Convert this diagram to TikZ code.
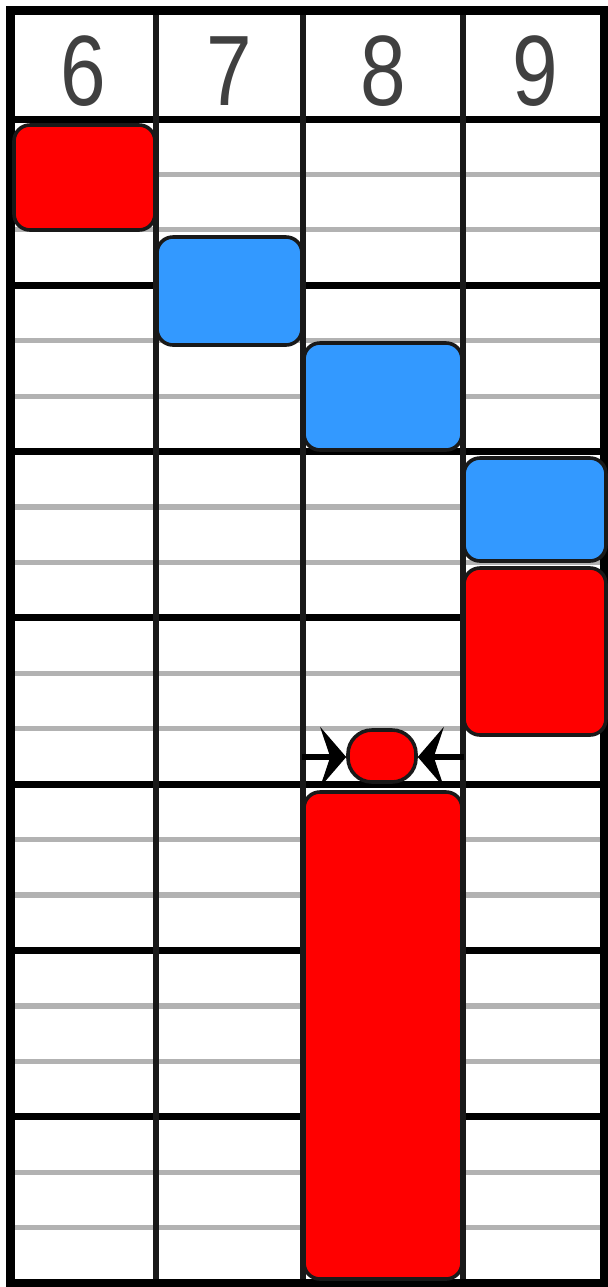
\documentclass[tikz,border=0pt]{standalone}
\usepackage{fontspec}
\setmainfont{Liberation Sans}
\usepackage{tikz}
\usetikzlibrary{arrows.meta}
\definecolor{slotred}{RGB}{255,0,0}
\definecolor{slotblue}{RGB}{51,153,255}
\newcommand{\hd}[1]{\scalebox{0.82}[1]{#1}}
\tikzset{
  frameline/.style = {line width=4.5pt,black},
  hourline/.style  = {line width=3.5pt,black},
  colline/.style   = {line width=2.6pt,black!90},
  subline/.style   = {line width=2.6pt,gray!60},
  slotbox/.style   = {draw=black!90,line width=1.8pt,rounded corners=8pt},
  headnum/.style   = {anchor=base,text=black!75,font=\fontsize{50}{50}\selectfont},
  pusharr/.style   = {-{Stealth[length=13pt,width=30pt,inset=5pt]},line width=2.8pt}
}

\begin{document}
\begin{tikzpicture}[x=0.5pt,y=-0.5pt]
  \useasboundingbox (0,0) rectangle (608,1287);
  \fill[white] (0,0) rectangle (608,1287);
  % thirds of each hour
  \foreach \k in {0,...,6}
    \foreach \s in {1,2}
      \draw[subline] (10.5,119+166.3*\k+55.43*\s) -- (604,119+166.3*\k+55.43*\s);
  \foreach \k in {0,...,6}
    \draw[hourline] (10.5,119+166.3*\k) -- (604,119+166.3*\k);
  \foreach \x in {156,303,463}
    \draw[colline] (\x,10) -- (\x,1283.5);
  \draw[frameline] (10.5,10) rectangle (604,1283.5);
  % header
  \node[headnum] (h6) at (83,105)  {\hd{6}};
  \node[headnum] (h7) at (229,105) {\hd{7}};
  \node[headnum] (h8) at (383,105) {\hd{8}};
  \node[headnum] (h9) at (535,105) {\hd{9}};
  % slots
  \foreach \xa/\ya/\xb/\yb/\c in {14/125/155/230/slotred,
      157/237/302/345/slotblue, 304/343/462/450/slotblue,
      464/458/606/561/slotblue, 464/568/606/735/slotred,
      304/792/462/1279/slotred}
    \draw[slotbox,fill=\c] (\xa,\ya) rectangle (\xb,\yb);
  \node[slotbox,fill=slotred,rounded corners=12pt,inner sep=0pt,
        minimum width=34pt,minimum height=26pt] (gap) at (382,756) {};
  \coordinate (gl) at (302,757);
  \coordinate (gr) at (464,757);
  \draw[pusharr] (gl) -- (gap.west |- gl);
  \draw[pusharr] (gr) -- (gap.east |- gr);
\end{tikzpicture}
\end{document}
